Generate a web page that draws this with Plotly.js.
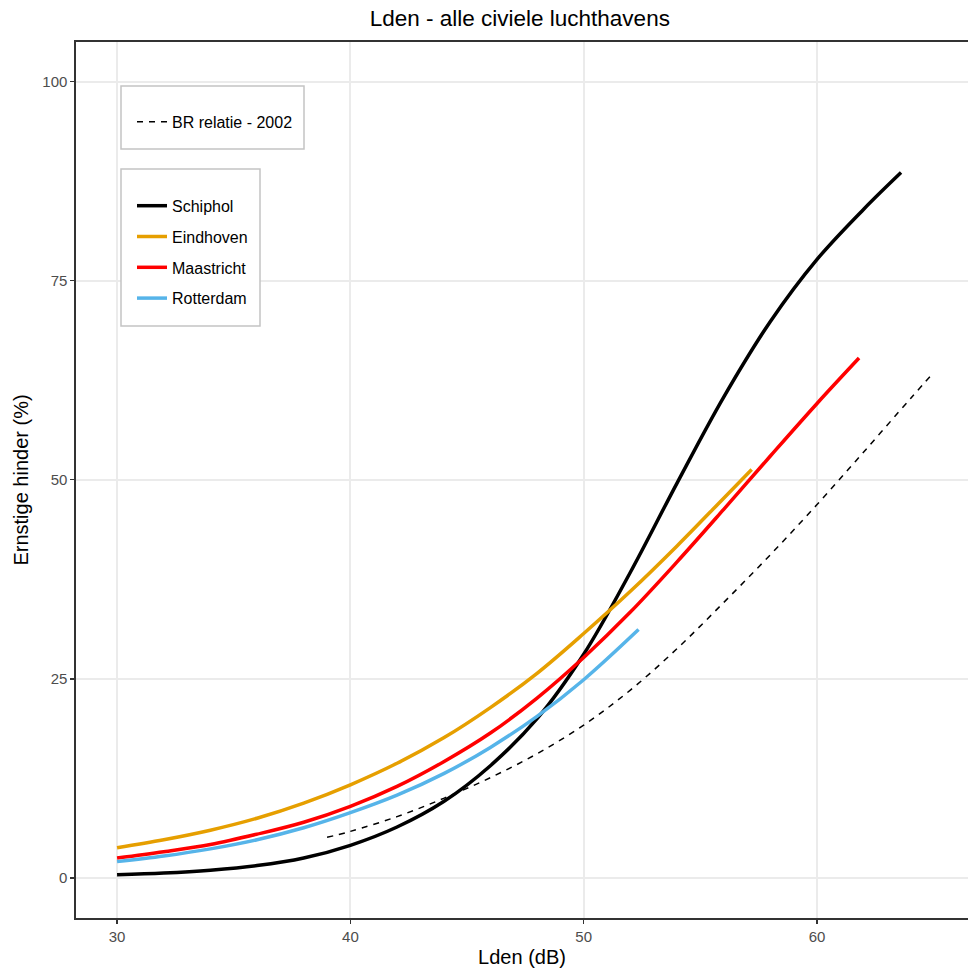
<!DOCTYPE html>
<html>
<head>
<meta charset="utf-8">
<script src="https://cdn.plot.ly/plotly-3.0.1.min.js"></script>
<style>html,body{margin:0;padding:0;background:#fff}#chart{width:968px;height:968px}</style>
</head>
<body>
<div id="chart"></div>
<script>
// Data
const schipholX = [30, 32, 34, 36, 38, 40, 42, 44, 46, 48, 50, 52, 54, 56, 58, 60, 62, 63.6];
const schipholY = [0.4, 0.62, 0.98, 1.55, 2.5, 4.1, 6.4, 9.6, 14.1, 20.0, 28.1, 38.4, 49.6, 60.4, 69.9, 77.7, 84.0, 88.6];

const eindhovenX = [30, 32, 34, 36, 38, 40, 42, 44, 46, 48, 50, 52, 54, 56, 57.2];
const eindhovenY = [3.8, 4.8, 6.0, 7.5, 9.4, 11.7, 14.4, 17.6, 21.4, 25.7, 30.7, 36.0, 41.7, 47.7, 51.3];

const maastrichtX = [30, 32, 34, 36, 38, 40, 42, 44, 46, 48, 50, 52, 54, 56, 58, 60, 61.8];
const maastrichtY = [2.5, 3.3, 4.2, 5.5, 7.0, 9.0, 11.5, 14.6, 18.2, 22.6, 27.7, 33.4, 39.7, 46.3, 53.0, 59.6, 65.3];

const rotterdamX = [30, 32, 34, 36, 38, 40, 42, 44, 46, 48, 50, 52.35];
const rotterdamY = [2.05, 2.75, 3.65, 4.8, 6.3, 8.2, 10.4, 13.1, 16.4, 20.3, 24.9, 31.2];

const brX = [39, 40, 42, 44, 46, 48, 50, 52, 54, 56, 58, 60, 62, 64, 65];
const brY = [5.1, 5.85, 7.7, 10.0, 12.6, 15.6, 19.2, 23.6, 28.8, 34.6, 40.6, 46.9, 53.5, 60.2, 63.5];

const xTicks = [30, 40, 50, 60];
const yTicks = [0, 25, 50, 75, 100];

const FONT = 'Liberation Sans, Arial, sans-serif';

function series(name, x, y, color, legend, group) {
  return {
    type: 'scatter', mode: 'lines', name: name, x: x, y: y,
    line: {color: color, width: 3.5, shape: 'spline', smoothing: 1},
    legend: legend, legendgroup: group
  };
}

const traces = [
  {
    type: 'scatter', mode: 'lines', name: 'BR relatie - 2002', x: brX, y: brY,
    line: {color: '#000000', width: 1.5, dash: '6px,6px', shape: 'spline', smoothing: 1},
    legend: 'legend', legendgroup: 'br'
  },
  series('Schiphol', schipholX, schipholY, '#000000', 'legend2', 'g1'),
  series('Eindhoven', eindhovenX, eindhovenY, '#E69F00', 'legend2', 'g2'),
  series('Maastricht', maastrichtX, maastrichtY, '#FF0000', 'legend2', 'g3'),
  series('Rotterdam', rotterdamX, rotterdamY, '#56B4E9', 'legend2', 'g4')
];

const legendCommon = {
  bgcolor: 'rgba(0,0,0,0)', borderwidth: 0,
  font: {family: FONT, size: 16, color: '#000000'},
  xanchor: 'left', yanchor: 'top', traceorder: 'grouped', tracegroupgap: 7,
  title: {text: ' ', font: {family: FONT, size: 16}}
};

// legend frames (paper coordinates)
function px2x(p) { return (p - 76) / 892; }
function px2y(p) { return (918 - p) / 876; }
const boxStyle = {type: 'rect', xref: 'paper', yref: 'paper', layer: 'above',
  fillcolor: '#ffffff', line: {color: '#c4c4c4', width: 1.5}};

const layout = {
  width: 968, height: 968,
  margin: {l: 76, r: 0, t: 42, b: 50},
  paper_bgcolor: '#ffffff', plot_bgcolor: '#ffffff',
  title: {
    text: 'Lden - alle civiele luchthavens',
    font: {family: FONT, size: 22.5, color: '#000000'},
    x: 0.537, xanchor: 'center', y: 0.981, yanchor: 'middle'
  },
  xaxis: {
    range: [28.24, 66.47], tickvals: xTicks, ticktext: xTicks.map(String),
    showgrid: true, gridcolor: '#ebebeb', gridwidth: 1.8, zeroline: false,
    showline: true, linecolor: '#333333', linewidth: 1.6, mirror: true,
    ticks: 'outside', ticklen: 4, tickwidth: 1.2, tickcolor: '#333333',
    tickfont: {family: FONT, size: 15, color: '#4d4d4d'},
    title: {text: 'Lden (dB)', font: {family: FONT, size: 20, color: '#000000'}, standoff: 6}
  },
  yaxis: {
    range: [-5.03, 105.0], tickvals: yTicks, ticktext: yTicks.map(String),
    showgrid: true, gridcolor: '#ebebeb', gridwidth: 1.8, zeroline: false,
    showline: true, linecolor: '#333333', linewidth: 1.6, mirror: false,
    ticks: 'outside', ticklen: 4, tickwidth: 1.2, tickcolor: '#333333',
    tickfont: {family: FONT, size: 15, color: '#4d4d4d'},
    title: {text: 'Ernstige hinder (%)', font: {family: FONT, size: 20, color: '#000000'}, standoff: 8}
  },
  shapes: [
    Object.assign({}, boxStyle, {x0: px2x(121), x1: px2x(304), y0: px2y(149), y1: px2y(86)}),
    Object.assign({}, boxStyle, {x0: px2x(121), x1: px2x(260), y0: px2y(326), y1: px2y(169)})
  ],
  showlegend: true,
  legend: Object.assign({}, legendCommon, {x: px2x(132), y: px2y(84)}),
  legend2: Object.assign({}, legendCommon, {x: px2x(132), y: px2y(168)})
};

Plotly.newPlot('chart', traces, layout, {displayModeBar: false, staticPlot: true});
</script>
</body>
</html>
